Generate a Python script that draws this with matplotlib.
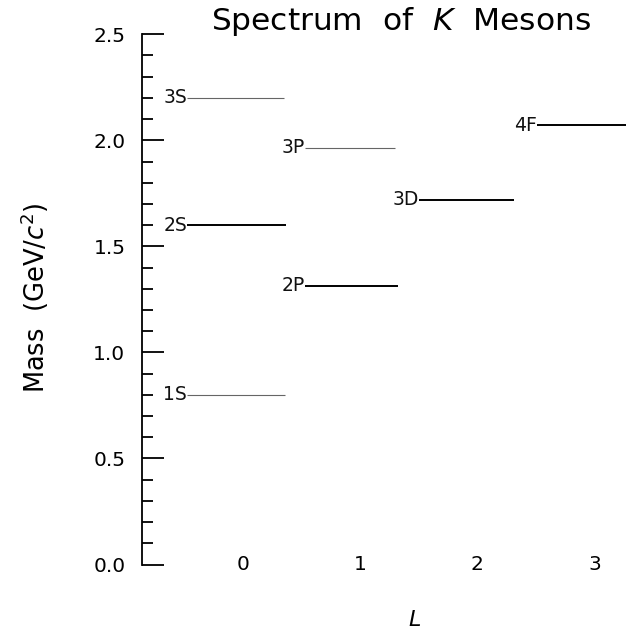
import matplotlib
matplotlib.use("Agg")
import matplotlib.pyplot as plt
from matplotlib.ticker import MultipleLocator

# Data
states = ["1S", "2S", "3S", "2P", "3P", "3D", "4F"]
L_values = [0, 0, 0, 1, 1, 2, 3]
masses = [0.80, 1.60, 2.20, 1.315, 1.965, 1.72, 2.07]
line_start = [-0.48, -0.48, -0.48, 0.53, 0.53, 1.50, 2.51]
line_end = [0.36, 0.37, 0.35, 1.32, 1.30, 2.31, 3.30]
thin = [True, False, True, False, True, False, False]
x_ticks = [0, 1, 2, 3]
y_ticks = [0.0, 0.5, 1.0, 1.5, 2.0, 2.5]

plt.rcParams['font.family'] = ['DejaVu Sans']
fig = plt.figure(figsize=(6.26, 6.35), dpi=100)
ax = fig.add_axes([0.227, 0.111, 0.773, 0.835])
ax.set_xlim(-0.863, 3.27)
ax.set_ylim(0, 2.5)

for name, L, m, x0, x1, t in zip(states, L_values, masses, line_start, line_end, thin):
    if t:
        ax.plot([x0, x1], [m, m], color="#666666", lw=0.8, solid_capstyle='butt')
    else:
        ax.plot([x0, x1], [m, m], color="black", lw=1.4, solid_capstyle='butt')
    ax.text(x0, m, name, ha='right', va='center', fontsize=13.5, color='#111111')

for s in ['top', 'right', 'bottom']:
    ax.spines[s].set_visible(False)
ax.spines['left'].set_linewidth(1.3)

ax.set_yticks(y_ticks)
ax.set_yticklabels([f"{v:.1f}" for v in y_ticks])
ax.yaxis.set_minor_locator(MultipleLocator(0.1))
ax.tick_params(axis='y', which='major', direction='in', length=16, width=1.3, pad=12, labelsize=14.5)
ax.tick_params(axis='y', which='minor', direction='in', length=8, width=1.3)

ax.set_xticks(x_ticks)
ax.set_xticklabels([str(v) for v in x_ticks])
ax.tick_params(axis='x', length=0, pad=-7, labelsize=14.5)

fig.text(35 / 626, 1 - 298 / 635, r"Mass  (GeV/$c^2$)", fontsize=18.5, rotation=90,
         ha='center', va='center')
fig.text(415 / 626, 1 - 620 / 635, "L", fontsize=16, style='italic', ha='center', va='center')
fig.text(401 / 626, 1 - 21 / 635, r"Spectrum  of  $\mathit{K}$  Mesons", fontsize=22.5,
         ha='center', va='center')

fig.savefig("out.png", dpi=100)
